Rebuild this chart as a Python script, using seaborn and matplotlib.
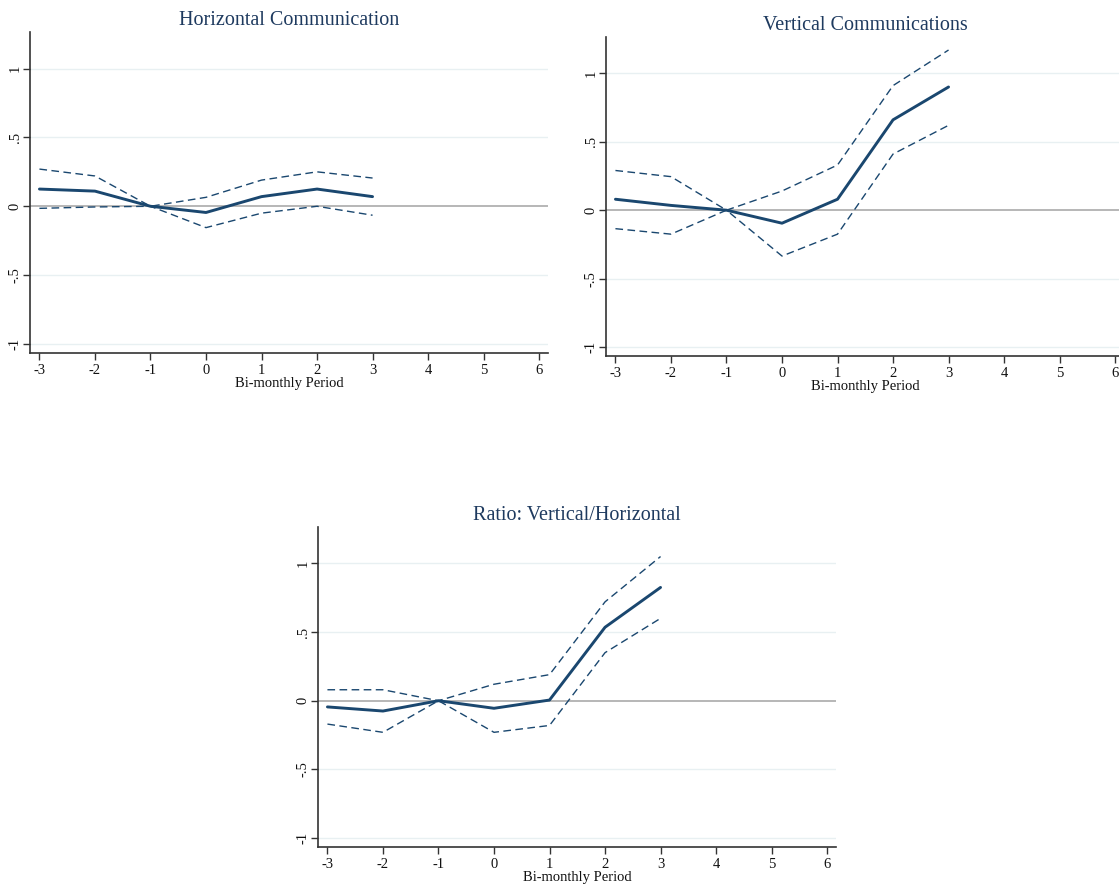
import matplotlib
matplotlib.use("Agg")
import matplotlib.pyplot as plt
import seaborn as sns
import pandas as pd

# Event-study estimates by bi-monthly period, with 95% confidence bounds
periods = [-3, -2, -1, 0, 1, 2, 3]

horiz_coef = [0.125, 0.11, 0.0, -0.045, 0.07, 0.125, 0.07]
horiz_upper = [0.27, 0.22, 0.0, 0.065, 0.19, 0.25, 0.205]
horiz_lower = [-0.015, -0.005, 0.0, -0.155, -0.05, 0.0, -0.065]

vert_coef = [0.08, 0.035, 0.0, -0.095, 0.08, 0.66, 0.90]
vert_upper = [0.29, 0.245, 0.0, 0.14, 0.33, 0.91, 1.17]
vert_lower = [-0.135, -0.175, 0.0, -0.335, -0.175, 0.41, 0.62]

ratio_coef = [-0.045, -0.075, 0.0, -0.055, 0.005, 0.535, 0.825]
ratio_upper = [0.08, 0.08, 0.0, 0.12, 0.19, 0.72, 1.05]
ratio_lower = [-0.17, -0.23, 0.0, -0.23, -0.18, 0.35, 0.60]

titles = ["Horizontal Communication", "Vertical Communications",
          "Ratio: Vertical/Horizontal"]
x_ticks = [-3, -2, -1, 0, 1, 2, 3, 4, 5, 6]
y_ticks = [-1, -0.5, 0, 0.5, 1]
y_ticklabels = ["-1", "-.5", "0", ".5", "1"]
x_label = "Bi-monthly Period"

sns.set_theme(style="white")
plt.rcParams["font.family"] = ["Liberation Serif", "DejaVu Serif"]

NAVY = "#1a476f"
TITLE_COLOR = "#1e3a5f"
GRID = "#e8f0f2"

fig = plt.figure(figsize=(11.19, 8.88), dpi=100)
W, H = 1119, 888


def add_axes(left, top, right, bottom):
    return fig.add_axes([left / W, 1 - bottom / H, (right - left) / W, (bottom - top) / H])


axes = [
    add_axes(30, 32, 548, 353),
    add_axes(606, 37, 1124, 356),
    add_axes(318, 527, 836, 847),
]

panels = [
    (horiz_coef, horiz_upper, horiz_lower),
    (vert_coef, vert_upper, vert_lower),
    (ratio_coef, ratio_upper, ratio_lower),
]

for ax, title, (coef, upper, lower) in zip(axes, titles, panels):
    df = pd.DataFrame({"period": periods, "coef": coef, "upper": upper, "lower": lower})

    for yv in [-1, -0.5, 0.5, 1]:
        ax.axhline(yv, color=GRID, lw=1.0, zorder=0)
    ax.axhline(0, color="#aaaaaa", lw=1.2, zorder=1)

    for col in ["upper", "lower"]:
        sns.lineplot(data=df, x="period", y=col, ax=ax, color=NAVY, lw=1.0,
                     linestyle=(0, (5.5, 3.2)), zorder=2)
    sns.lineplot(data=df, x="period", y="coef", ax=ax, color=NAVY, lw=2.1, zorder=3)

    ax.set_xlim(-3.17, 6.16)
    ax.set_ylim(-1.065, 1.265)
    ax.set_xticks(x_ticks)
    ax.set_xticklabels([str(t) for t in x_ticks])
    ax.set_yticks(y_ticks)
    ax.set_yticklabels(y_ticklabels, rotation=90, va="center")
    ax.tick_params(axis="both", which="major", length=5, width=1.0, color="#333333",
                   labelsize=10.5, labelcolor="#111111", bottom=True, left=True)
    ax.tick_params(axis="x", pad=3)
    ax.tick_params(axis="y", pad=1)
    ax.set_xlabel(x_label, fontsize=10.5, labelpad=0, color="#111111")
    ax.set_ylabel("")
    ax.set_title(title, fontsize=14.5, color=TITLE_COLOR, pad=5)

    for side in ["top", "right"]:
        ax.spines[side].set_visible(False)
    for side in ["left", "bottom"]:
        ax.spines[side].set_color("#333333")
        ax.spines[side].set_linewidth(1.2)
    ax.grid(False)

fig.savefig("out.png", dpi=100, facecolor="white")
